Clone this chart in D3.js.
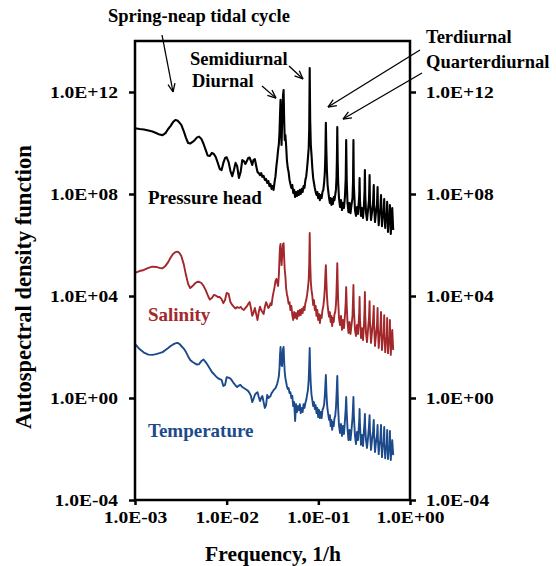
<!DOCTYPE html>
<html><head><meta charset="utf-8">
<script src="https://cdn.jsdelivr.net/npm/d3@7"></script>
<style>
body{margin:0;background:#fff}
svg{display:block}
text{font-family:"Liberation Serif","Times New Roman",serif;font-weight:bold}
</style>
</head><body><svg id="c" width="556" height="566"></svg>
<script>
// Frequency (1/h)
const freq = [
0.00100,0.00112,0.00125,0.00140,0.00155,0.00170,0.00185,0.00200,0.00215,0.00230,
0.00245,0.00260,0.00275,0.00290,0.00305,0.00320,0.00340,0.00360,0.00380,0.00400,
0.00425,0.00450,0.00475,0.00500,0.00530,0.00560,0.00590,0.00620,0.00655,0.00690,
0.00725,0.00760,0.00800,0.00840,0.00880,0.00920,0.00960,0.0100,0.0105,0.0110,
0.0115,0.0120,0.0125,0.0130,0.0136,0.0142,0.0148,0.0154,0.0160,0.0166,
0.0172,0.0178,0.0184,0.0190,0.0196,0.0203,0.0210,0.0217,0.0224,0.0231,
0.0238,0.0245,0.0253,0.0261,0.0269,0.0277,0.0285,0.0293,0.0301,0.0309,
0.0317,0.0325,0.0333,0.0341,0.0349,0.0357,0.0364,0.0371,0.0377,0.0382,
0.0387,0.0392,0.0397,0.0402,0.0407,0.0412,0.0418,0.0424,0.0430,0.0437,
0.0445,0.0454,0.0464,0.0474,0.0485,0.0496,0.0508,0.0520,0.0532,0.0545,
0.0558,0.0571,0.0585,0.0599,0.0613,0.0628,0.0643,0.0658,0.0674,0.0690,
0.0706,0.0722,0.0738,0.0754,0.0770,0.0785,0.0795,0.0805,0.0815,0.0828,
0.0843,0.0860,0.0878,0.0896,0.0915,0.0935,0.0955,0.0975,0.0996,0.1018,
0.1040,0.1063,0.1086,0.1110,0.1134,0.1158,0.1178,0.1193,0.1208,0.1223,
0.1240,0.1262,0.1286,0.1310,0.1336,0.1362,0.1389,0.1416,0.1444,0.1472,
0.1500,0.1528,0.1556,0.1578,0.1594,0.1610,0.1626,0.1645,0.1680,0.1723,
0.1767,0.1812,0.1858,0.1905,0.1953,0.1990,0.2013,0.2040,0.2080,0.2133,
0.2187,0.2243,0.2300,0.2359,0.2390,0.2415,0.2440,0.2511,0.2575,0.2641,
0.2708,0.2795,0.2818,0.2845,0.2920,0.2995,0.3071,0.3148,0.3195,0.3220,
0.3250,0.3311,0.3395,0.3481,0.3569,0.3623,0.3655,0.3754,0.3849,0.3946,
0.4025,0.4060,0.4150,0.4256,0.4364,0.4428,0.4465,0.4555,0.4647,0.4741,
0.4830,0.4870,0.4948,0.5048,0.5150,0.5233,0.5270,0.5362,0.5470,0.5567,
0.5635,0.5675,0.5754,0.5855,0.5960,0.6038,0.6080,0.6172,0.6281,0.6402,
0.6557];

// log10 of autospectral density
const pressureLog = [
10.58,10.55,10.53,10.49,10.45,10.39,10.33,10.31,10.39,10.55,
10.67,10.82,10.90,10.88,10.80,10.71,10.47,10.20,10.00,9.98,
10.04,10.12,10.22,10.25,10.16,9.96,9.73,9.51,9.49,9.61,
9.57,9.45,9.22,8.98,8.94,9.22,9.41,9.44,9.25,8.90,
8.70,8.94,9.22,9.10,8.63,8.86,9.33,9.29,9.18,9.29,
9.41,9.43,9.29,9.14,9.33,9.37,9.10,8.86,8.82,8.74,
8.82,8.67,8.71,8.55,8.59,8.43,8.51,8.31,8.39,8.20,
8.31,8.16,8.47,8.70,9.10,9.41,9.73,9.96,10.43,11.10,
11.69,10.51,9.92,10.71,11.29,11.88,12.08,10.90,10.12,10.31,
9.92,9.33,9.02,8.86,8.55,8.39,8.24,8.35,8.04,8.16,
7.88,8.08,7.92,8.12,7.96,8.16,8.00,8.20,8.08,8.31,
8.24,8.55,8.70,9.02,9.41,9.80,10.51,12.94,10.90,9.92,
9.53,9.02,8.63,8.43,8.24,8.08,7.96,8.08,7.84,8.00,
7.76,7.96,7.84,8.08,8.16,8.47,8.86,9.53,10.79,9.73,
8.94,8.35,8.08,7.84,7.65,7.84,7.57,7.80,7.61,7.88,
7.76,7.96,8.16,8.63,9.33,10.63,9.33,8.47,7.84,7.49,
7.76,7.37,7.65,7.45,7.92,8.63,10.12,8.55,7.65,7.29,
7.65,7.25,7.57,7.84,8.47,10.12,8.35,7.37,7.14,7.49,
7.22,7.96,8.63,7.76,7.14,7.45,7.06,7.57,8.16,8.94,
7.96,7.29,6.98,7.37,7.76,8.74,7.76,6.98,7.29,7.57,
8.35,7.57,6.90,7.29,7.57,8.27,7.57,6.78,7.25,7.37,
7.96,7.45,6.74,7.18,7.29,7.80,7.29,6.67,7.22,7.14,
7.69,7.22,6.51,7.18,7.06,7.57,7.06,6.43,7.06,7.45,
6.59];

const salinityLog = [
4.91,4.98,5.02,5.10,5.15,5.14,5.10,5.09,5.18,5.33,
5.51,5.65,5.72,5.74,5.69,5.57,5.25,4.82,4.47,4.31,
4.39,4.49,4.55,4.56,4.51,4.39,4.23,4.04,3.86,3.92,
4.04,4.02,3.96,3.96,3.88,3.72,3.84,4.12,4.08,3.76,
3.65,3.57,3.51,3.57,3.53,3.57,3.49,3.45,3.53,3.59,
3.69,3.76,3.53,3.22,3.33,3.53,3.29,3.06,3.37,3.58,
3.45,3.37,3.29,3.57,3.76,3.65,3.53,3.58,3.72,3.65,
3.96,4.16,4.35,4.59,4.67,4.51,4.39,4.82,5.49,5.92,
6.04,5.61,5.21,5.49,5.80,6.04,6.07,5.49,5.02,4.78,
4.31,4.08,3.92,3.69,3.76,3.45,3.61,3.25,3.06,3.37,
3.14,3.33,3.10,3.41,3.22,3.45,3.25,3.49,3.33,3.57,
3.45,3.72,3.84,4.04,4.31,4.63,5.21,6.47,5.33,4.55,
4.23,4.00,3.65,3.84,3.45,3.61,3.22,3.45,3.06,3.29,
2.94,3.25,3.14,3.45,3.61,3.92,4.31,4.82,5.21,4.63,
4.04,3.65,3.37,3.18,3.37,2.98,3.22,2.82,3.14,2.98,
3.29,3.37,3.65,4.16,4.71,5.29,4.55,3.84,3.14,2.86,
3.22,2.67,3.06,2.74,3.25,3.76,4.35,3.65,2.98,2.55,
2.98,2.51,2.86,3.22,3.84,4.43,3.53,2.67,2.43,2.86,
2.51,3.37,3.96,3.14,2.35,2.74,2.27,2.86,3.53,4.16,
3.25,2.55,2.19,2.67,3.14,3.80,3.06,2.16,2.59,2.98,
3.61,2.86,2.04,2.47,2.86,3.53,2.82,1.96,2.43,2.67,
3.37,2.67,1.88,2.35,2.51,3.25,2.55,1.80,2.35,2.27,
3.14,2.43,1.76,2.35,2.19,3.06,2.35,1.69,2.27,2.67,
1.88];

const temperatureLog = [
2.12,1.92,1.78,1.70,1.69,1.72,1.76,1.80,1.88,1.96,
2.04,2.10,2.14,2.16,2.12,2.04,1.94,1.80,1.63,1.49,
1.41,1.36,1.31,1.33,1.45,1.51,1.41,1.29,1.16,1.02,
0.94,0.86,0.78,0.74,0.71,0.47,0.51,0.82,0.80,0.76,
0.67,0.57,0.49,0.43,0.49,0.51,0.43,0.39,0.35,0.31,
0.27,0.19,0.08,-0.16,-0.04,0.12,0.19,0.23,0.04,-0.12,
0.00,0.08,-0.16,-0.39,-0.28,0.12,0.00,0.04,0.08,0.19,
0.24,0.31,0.35,0.39,0.47,0.58,0.71,0.86,1.18,1.69,
2.00,1.69,1.29,1.25,1.57,1.92,2.00,1.41,1.02,0.78,
0.63,0.47,0.35,0.39,0.19,0.23,0.00,0.08,-0.32,-0.16,
-0.90,-0.24,-0.55,-0.32,-0.47,-0.24,-0.59,-0.39,-0.55,-0.24,
-0.39,-0.20,-0.08,0.12,0.31,0.71,1.29,1.96,1.10,0.51,
0.12,-0.08,-0.32,-0.16,-0.43,-0.28,-0.59,-0.39,-0.75,-0.47,
-0.79,-0.55,-0.79,-0.47,-0.39,-0.24,0.12,0.51,0.90,0.31,
-0.16,-0.47,-0.67,-0.86,-0.67,-1.10,-0.86,-1.25,-0.94,-1.10,
-0.79,-0.71,-0.39,0.08,0.47,0.86,0.23,-0.39,-1.06,-1.37,
-1.02,-1.49,-1.10,-1.41,-0.86,-0.39,0.04,-0.55,-1.18,-1.65,
-1.25,-1.65,-1.25,-0.79,-0.35,0.04,-0.67,-1.49,-1.81,-1.33,
-1.65,-0.86,-0.43,-1.02,-1.84,-1.45,-1.88,-1.25,-0.94,-0.63,
-1.18,-1.65,-1.96,-1.57,-1.10,-0.67,-1.25,-2.04,-1.65,-1.33,
-0.86,-1.41,-2.12,-1.73,-1.49,-1.06,-1.57,-2.20,-1.81,-1.65,
-1.06,-1.65,-2.32,-1.88,-1.73,-1.14,-1.73,-2.36,-1.88,-1.96,
-1.25,-1.81,-2.39,-1.96,-2.04,-1.29,-1.88,-2.43,-1.96,-1.65,
-2.24];

const xTickValues = [1e-3, 1e-2, 1e-1, 1e0];
const xTickLabels = ["1.0E-03", "1.0E-02", "1.0E-01", "1.0E+00"];
const yTickValues = [1e-4, 1e0, 1e4, 1e8, 1e12];
const yTickLabels = ["1.0E-04", "1.0E+00", "1.0E+04", "1.0E+08", "1.0E+12"];
const seriesNames = ["Pressure head", "Salinity", "Temperature"];
const seriesColors = ["#000000", "#a3282c", "#1d4a8a"];
const seriesWidths = [2.1, 1.9, 1.9];

const svg = d3.select("#c");
const L = 135, R = 410, T = 41, B = 500;
const x = d3.scaleLog().domain([1e-3, 1]).range([L, R]);
const y = d3.scaleLog().domain([1e-4, 1e14]).range([B, T]);

const SX = 1.15, TF = 17;
const FF = '"Liberation Serif","Times New Roman",serif';
// left axis
const gl = svg.append("g").attr("transform", `translate(${L},0)`)
  .call(d3.axisLeft(y).tickValues(yTickValues).tickFormat((d, i) => yTickLabels[i]).tickSize(6).tickSizeOuter(0));
gl.select(".domain").remove();
gl.selectAll("line").attr("stroke", "#000").attr("stroke-width", 2.5);
gl.selectAll("text").attr("x", -17 / SX).attr("transform", `scale(${SX},1)`)
  .attr("font-size", TF).attr("fill", "#000").style("font-family", FF).style("font-weight", "bold");
// right axis
const gr = svg.append("g").attr("transform", `translate(${R},0)`)
  .call(d3.axisRight(y).tickValues(yTickValues).tickFormat((d, i) => yTickLabels[i]).tickSize(6).tickSizeOuter(0));
gr.select(".domain").remove();
gr.selectAll("line").attr("stroke", "#000").attr("stroke-width", 2.5);
gr.selectAll("text").attr("x", 15.7 / SX).attr("transform", `scale(${SX},1)`)
  .attr("font-size", TF).attr("fill", "#000").style("font-family", FF).style("font-weight", "bold");
// bottom axis
const gb = svg.append("g").attr("transform", `translate(0,${B})`)
  .call(d3.axisBottom(x).tickValues(xTickValues).tickFormat((d, i) => xTickLabels[i]).tickSize(5).tickSizeOuter(0));
gb.select(".domain").remove();
gb.selectAll("line").attr("stroke", "#000").attr("stroke-width", 2.5);
gb.selectAll("text").attr("y", 23).attr("dy", null).attr("transform", `scale(${SX},1)`)
  .attr("font-size", TF).attr("fill", "#000").style("font-family", FF).style("font-weight", "bold");

// series lines
const seriesLogs = [pressureLog, salinityLog, temperatureLog];
const line = d3.line().x(d => x(d.f)).y(d => y(d.v));
seriesLogs.forEach((arr, k) => {
  const data = freq.map((f, i) => ({ f, v: Math.pow(10, arr[i]) }));
  svg.append("path").datum(data).attr("d", line)
    .attr("fill", "none").attr("stroke", seriesColors[k])
    .attr("stroke-width", seriesWidths[k]).attr("stroke-linejoin", "round");
});

// frame
svg.append("rect").attr("x", L).attr("y", T).attr("width", R - L).attr("height", B - T)
  .attr("fill", "none").attr("stroke", "#000").attr("stroke-width", 2.5);

// series labels
const labelPos = [[148, 204], [148, 321], [148, 437]];
seriesNames.forEach((n, k) => {
  svg.append("text").attr("x", labelPos[k][0]).attr("y", labelPos[k][1])
    .attr("font-size", 19).attr("fill", seriesColors[k]).text(n);
});

// axis titles
svg.append("text").attr("x", 273).attr("y", 561).attr("text-anchor", "middle")
  .attr("font-size", 21.5).text("Frequency, 1/h");
svg.append("text").attr("transform", "translate(31,287) rotate(-90)").attr("text-anchor", "middle")
  .attr("font-size", 22.5).text("Autospectral density function");

// annotations: text, text pos, arrow tail (px), arrow tip (data)
const annotations = [
  { t: "Spring-neap tidal cycle", tx: 108, ty: 22, ax: 162, ay: 35, f: 0.00260, v: 1e12 },
  { t: "Semidiurnal", tx: 190, ty: 65, ax: 289, ay: 66, f: 0.0680, v: Math.pow(10, 12.51) },
  { t: "Diurnal", tx: 192, ty: 87, ax: 262, ay: 86, f: 0.0345, v: Math.pow(10, 11.76) },
  { t: "Terdiurnal", tx: 426, ty: 43, ax: 420, ay: 50, f: 0.1274, v: Math.pow(10, 11.41) },
  { t: "Quarterdiurnal", tx: 426, ty: 68, ax: 422, ay: 73, f: 0.1858, v: Math.pow(10, 10.94) }
];
annotations.forEach(a => {
  svg.append("text").attr("x", a.tx).attr("y", a.ty).attr("font-size", 18.5).text(a.t);
  const x2 = x(a.f), y2 = y(a.v);
  svg.append("line").attr("x1", a.ax).attr("y1", a.ay).attr("x2", x2).attr("y2", y2)
    .attr("stroke", "#000").attr("stroke-width", 1.3);
  const ang = Math.atan2(a.ay - y2, a.ax - x2);
  [-0.4, 0.4].forEach(da => {
    svg.append("line").attr("x1", x2).attr("y1", y2)
      .attr("x2", x2 + 9 * Math.cos(ang + da)).attr("y2", y2 + 9 * Math.sin(ang + da))
      .attr("stroke", "#000").attr("stroke-width", 1.3);
  });
});
</script>
</body></html>
